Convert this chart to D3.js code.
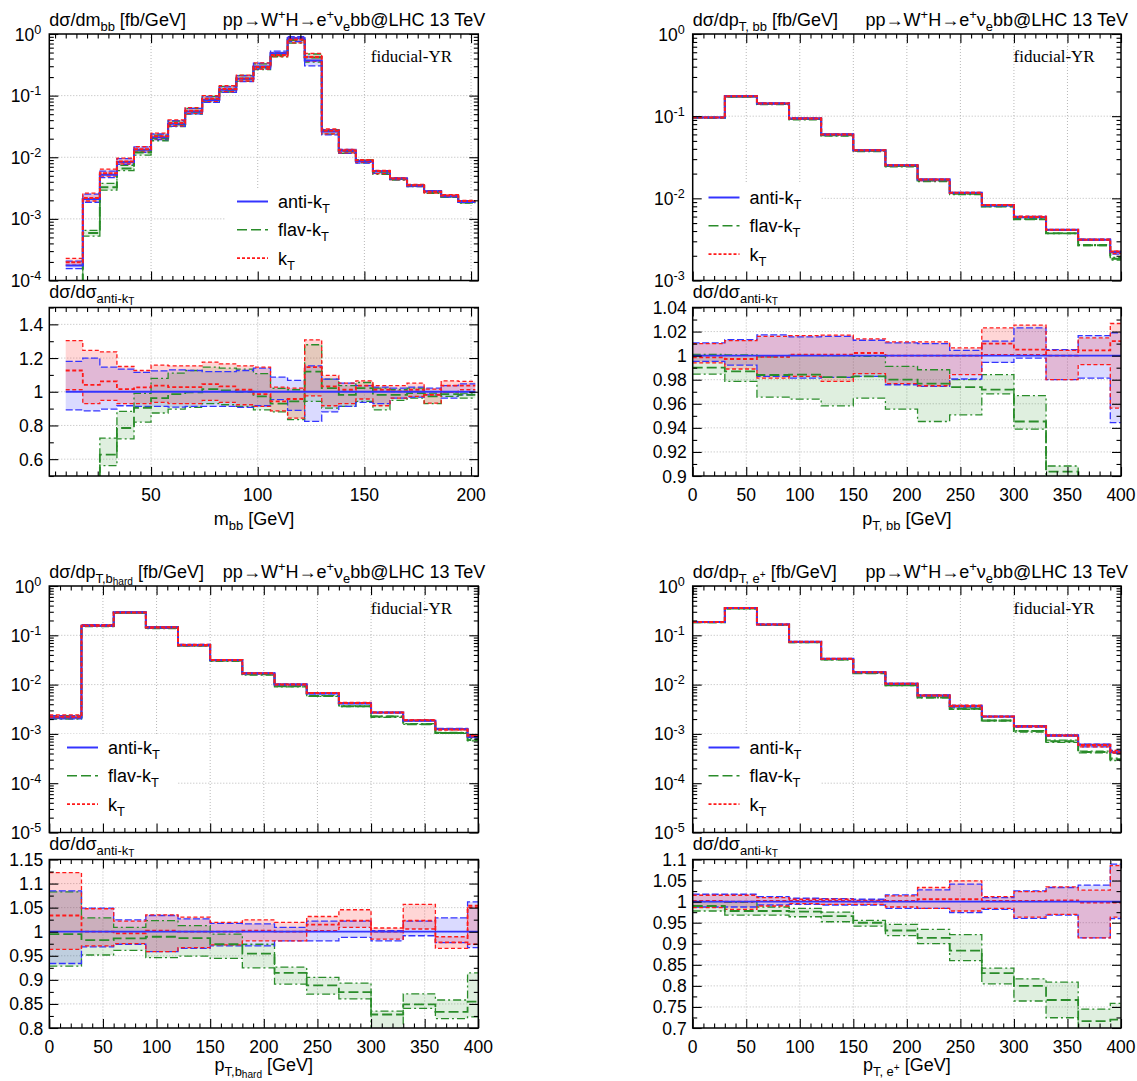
<!DOCTYPE html>
<html>
<head>
<meta charset="utf-8">
<script src="https://cdn.jsdelivr.net/npm/d3@7"></script>
<style>
body { margin: 0; background: #fff; }
svg text { font-family: "Liberation Sans", Arial, Helvetica, sans-serif; fill: #000; }
</style>
</head>
<body>
<div id="chart"></div>
<script>
// ---- bin edges ----
const mbbEdges = [10, 18, 26, 34, 42, 50, 58, 66, 74, 82, 90, 98, 106, 114, 122, 130, 138, 146, 154, 162, 170, 178, 186, 194, 202];
const ptEdges = [0, 30, 60, 90, 120, 150, 180, 210, 240, 270, 300, 330, 360, 390, 420];

// ---- m_bb : anti-kT cross section [fb/GeV] and ratios to anti-kT ----
const mbbAnti = [1.75e-4, 2.1e-3, 5.2e-3, 8.4e-3, 1.32e-2, 2.12e-2, 3.49e-2, 5.52e-2, 8.5e-2, 0.124, 0.187, 0.296, 0.486, 0.85, 0.37, 2.62e-2, 1.27e-2, 8.6e-3, 5.9e-3, 4.5e-3, 3.46e-3, 2.8e-3, 2.32e-3, 1.88e-3];
const mbbAntiLo = [0.893, 0.887, 0.897, 0.917, 0.913, 0.913, 0.909, 0.913, 0.913, 0.913, 0.907, 0.917, 0.953, 0.889, 0.824, 0.88, 0.913, 0.937, 0.929, 0.962, 0.968, 0.982, 0.962, 0.982];
const mbbAntiHi = [1.18, 1.2, 1.146, 1.134, 1.115, 1.124, 1.13, 1.126, 1.12, 1.12, 1.126, 1.14, 1.087, 1.067, 1.154, 1.075, 1.051, 1.036, 1.028, 1.022, 1.028, 1.022, 1.036, 1.047];
const mbbKtLo = [1.012, 0.929, 0.949, 0.929, 0.929, 0.937, 0.929, 0.93, 0.949, 0.937, 0.923, 0.913, 0.887, 0.844, 0.976, 0.917, 0.929, 0.957, 0.917, 0.962, 0.972, 0.933, 0.996, 1.012];
const mbbKt = [1.126, 1.041, 1.061, 1.016, 1.026, 1.036, 1.028, 1.028, 1.045, 1.032, 1.012, 0.986, 0.943, 0.957, 1.146, 1.032, 1.012, 1.036, 1.012, 1.002, 1.012, 0.982, 1.036, 1.036];
const mbbKtHi = [1.304, 1.245, 1.237, 1.15, 1.126, 1.158, 1.154, 1.154, 1.176, 1.166, 1.154, 1.146, 1.028, 1.022, 1.308, 1.097, 1.051, 1.065, 1.036, 1.036, 1.051, 1.016, 1.065, 1.061];
const mbbFlavLo = [0.15, 0.25, 0.561, 0.72, 0.82, 0.874, 0.897, 0.907, 0.93, 0.923, 0.913, 0.893, 0.88, 0.834, 0.943, 0.903, 0.913, 0.943, 0.893, 0.949, 0.962, 0.929, 0.972, 0.962];
const mbbFlav = [0.2, 0.28, 0.627, 0.785, 0.905, 0.962, 0.986, 0.996, 1.016, 1.008, 1.0, 0.972, 0.929, 0.943, 1.12, 1.022, 0.982, 1.022, 0.982, 0.982, 0.992, 0.972, 0.986, 0.982];
const mbbFlavHi = [0.25, 0.31, 0.725, 0.883, 0.99, 1.079, 1.11, 1.126, 1.146, 1.14, 1.134, 1.107, 1.02, 1.012, 1.279, 1.075, 1.036, 1.055, 1.022, 1.012, 1.022, 0.992, 0.996, 0.992];

// ---- pT,bb ----
const ptbbAnti = [0.0964, 0.175, 0.143, 0.0937, 0.0598, 0.0385, 0.0253, 0.0169, 0.0117, 8.2e-3, 5.9e-3, 4.15e-3, 3.13e-3, 2.22e-3];
const ptbbAntiLo = [0.9953, 0.9922, 0.9828, 0.9814, 0.982, 0.9828, 0.9758, 0.9744, 0.9806, 0.9944, 0.998, 0.98, 0.9814, 0.9444];
const ptbbAntiHi = [1.0106, 1.0133, 1.0172, 1.0156, 1.016, 1.0128, 1.0106, 1.01, 1.0044, 1.012, 1.023, 1.005, 1.0167, 1.019];
const ptbbKtLo = [0.994, 0.9889, 0.9814, 0.9828, 0.9786, 0.985, 0.9767, 0.975, 0.9842, 1.0008, 1.0008, 0.98, 0.9925, 0.9564];
const ptbbKt = [0.9986, 0.9972, 0.9989, 1.0008, 1.0008, 1.0022, 1.0, 1.0, 1.0, 1.01, 1.005, 1.0, 1.0044, 1.012];
const ptbbKtHi = [1.010, 1.0125, 1.016, 1.0167, 1.017, 1.0139, 1.0114, 1.0114, 1.0064, 1.023, 1.0253, 1.0044, 1.0147, 1.0267];
const ptbbFlavLo = [0.9847, 0.9786, 0.9656, 0.9639, 0.9583, 0.9647, 0.9556, 0.9453, 0.9508, 0.9683, 0.9389, 0.898, 0.85, 0.80];
const ptbbFlav = [0.99, 0.987, 0.9839, 0.9842, 0.9822, 0.9828, 0.98, 0.9767, 0.9739, 0.9717, 0.9453, 0.9036, 0.86, 0.83];
const ptbbFlavHi = [1.001, 1.0006, 0.9989, 1.0003, 1.0, 0.9994, 0.9911, 0.9883, 0.98, 0.9842, 0.9667, 0.9083, 0.875, 0.86];

// ---- pT,b_hard ----
const pthAnti = [2.16e-3, 0.157, 0.292, 0.145, 0.0635, 0.0315, 0.0169, 0.0101, 6.63e-3, 4.15e-3, 2.73e-3, 1.85e-3, 1.25e-3, 8.75e-4];
const pthAntiLo = [0.934, 0.9684, 0.974, 0.9586, 0.9656, 0.9705, 0.9705, 0.981, 0.981, 0.9881, 0.981, 0.9916, 0.9775, 0.967];
const pthAntiHi = [1.0849, 1.049, 1.0246, 1.0337, 1.0267, 1.0175, 1.0161, 1.0091, 1.0218, 1.0218, 1.002, 1.0218, 1.0288, 1.0618];
const pthKtLo = [0.9635, 0.9705, 0.9754, 0.9586, 0.967, 0.9726, 0.981, 0.981, 1.002, 1.0091, 0.9846, 1.0056, 0.9656, 0.974];
const pthKt = [1.0337, 1.0, 0.9965, 1.0021, 1.0, 1.0, 1.002, 1.0, 1.0147, 1.0232, 1.0, 1.0232, 0.978, 1.051];
const pthKtHi = [1.1228, 1.0477, 1.0218, 1.0351, 1.0302, 1.0196, 1.0246, 1.0196, 1.0316, 1.0456, 1.0077, 1.0568, 0.9895, 1.0547];
const pthFlavLo = [0.9284, 0.9516, 0.9614, 0.946, 0.9495, 0.9446, 0.9249, 0.8912, 0.8702, 0.8604, 0.79, 0.8407, 0.8196, 0.8232];
const pthFlav = [0.9951, 0.9825, 0.986, 0.9895, 0.9867, 0.974, 0.9544, 0.9144, 0.8884, 0.8744, 0.828, 0.8491, 0.8337, 0.8547];
const pthFlavHi = [1.0828, 1.0288, 1.0091, 1.0232, 1.0126, 0.9951, 0.974, 0.9263, 0.9053, 0.8933, 0.8351, 0.8709, 0.8582, 0.9144];

// ---- pT,e+ ----
const pteAnti = [0.186, 0.357, 0.166, 0.074, 0.0334, 0.0179, 0.0104, 6.0e-3, 3.65e-3, 2.25e-3, 1.43e-3, 9.27e-4, 5.99e-4, 4.25e-4];
const pteAntiLo = [0.9873, 0.9873, 0.992, 0.9936, 0.992, 0.992, 0.9841, 0.9841, 0.9737, 0.9817, 0.9602, 0.9681, 0.9139, 0.96];
const pteAntiHi = [1.0175, 1.0175, 1.012, 1.008, 1.0072, 1.0056, 1.0159, 1.0279, 1.0414, 1.0096, 1.0255, 1.0335, 1.039, 1.0892];
const pteKtLo = [0.9857, 0.9817, 0.9896, 0.9952, 0.9936, 0.9936, 0.9873, 0.9841, 0.9777, 0.9841, 0.9633, 0.9697, 0.9139, 0.9633];
const pteKt = [1.0016, 1.0, 1.0016, 1.0016, 1.0016, 1.0, 1.0016, 1.0056, 1.0056, 1.0016, 1.0016, 1.0032, 0.9976, 0.9976];
const pteKtHi = [1.0151, 1.0151, 1.0096, 1.0056, 1.0056, 1.0032, 1.0135, 1.0335, 1.0494, 1.012, 1.0239, 1.035, 1.0271, 1.0853];
const pteFlavLo = [0.9777, 0.9681, 0.9681, 0.9641, 0.9522, 0.9418, 0.9195, 0.9004, 0.8598, 0.8048, 0.7641, 0.7243, 0.69, 0.68];
const pteFlav = [0.9896, 0.9777, 0.9777, 0.9761, 0.9657, 0.9498, 0.9315, 0.9139, 0.8837, 0.8303, 0.8, 0.7665, 0.7163, 0.72];
const pteFlavHi = [1.0, 0.9985, 0.9873, 0.984, 0.9753, 0.9554, 0.9458, 0.9339, 0.9219, 0.8422, 0.8167, 0.8088, 0.745, 0.7586];

// ---- tick values ----
const ptTicks = [0, 50, 100, 150, 200, 250, 300, 350, 400];
const mbbTicks = [50, 100, 150, 200];
const mbbRatioTicks = [0.6, 0.8, 1, 1.2, 1.4];
const ptbbRatioTicks = [0.9, 0.92, 0.94, 0.96, 0.98, 1, 1.02, 1.04];
const pthRatioTicks = [0.8, 0.85, 0.9, 0.95, 1, 1.05, 1.1, 1.15];
const pteRatioTicks = [0.7, 0.75, 0.8, 0.85, 0.9, 0.95, 1, 1.05, 1.1];

const legendNames = [[["anti-k"], ["T", "sub"]], [["flav-k"], ["T", "sub"]], [["k"], ["T", "sub"]]];
const processTitle = [["pp→W"], ["+", "sup"], ["H→e"], ["+", "sup"], ["ν"], ["e", "sub"], ["bb@LHC 13 TeV"]];

const colors = { anti: "#3434ff", flav: "#2a8c2a", kt: "#ff1a1a" };
const fills = { anti: "rgba(70,70,255,0.2)", flav: "rgba(40,150,40,0.15)", kt: "rgba(255,50,50,0.2)" };

// text with sub/superscripts
function rich(sel, parts, size) {
    let shift = 0;
    parts.forEach(([t, k]) => {
        let target = 0, s = size;
        if (k === "sub") { target = size * 0.28; s = size * 0.72; }
        else if (k === "sup") { target = -size * 0.38; s = size * 0.72; }
        else if (k === "subsub") { target = size * 0.4; s = size * 0.56; }
        else if (k === "subsup") { target = size * 0.02; s = size * 0.56; }
        sel.append("tspan").attr("dy", target - shift).attr("font-size", s).text(t);
        shift = target;
    });
}

const svg = d3.select("#chart").append("svg")
    .attr("width", 1137)
    .attr("height", 1081);

class RatioPlot {
    constructor(_svg, _cfg) {
        this.svg = _svg;
        this.cfg = _cfg;
        this.initVis();
    }

    initVis() {
        let vis = this;
        let c = vis.cfg;

        vis.x0 = c.col === 0 ? 49.3 : 692.7;
        vis.x1 = c.col === 0 ? 478.3 : 1121;
        let dy = c.row * 552;
        vis.mTop = 34 + dy; vis.mBot = 280.5 + dy;
        vis.rTop = 307.5 + dy; vis.rBot = 476 + dy;
        vis.id = "p" + c.row + c.col;

        vis.x = d3.scaleLinear().domain(c.xDomain).range([vis.x0, vis.x1]);
        vis.yMain = d3.scaleLog().domain(c.mainDomain).range([vis.mBot, vis.mTop]);
        vis.yRatio = d3.scaleLinear().domain(c.ratioDomain).range([vis.rBot, vis.rTop]);

        let defs = vis.svg.append("defs");
        defs.append("clipPath").attr("id", vis.id + "m").append("rect")
            .attr("x", vis.x0).attr("y", vis.mTop).attr("width", vis.x1 - vis.x0).attr("height", vis.mBot - vis.mTop);
        defs.append("clipPath").attr("id", vis.id + "r").append("rect")
            .attr("x", vis.x0).attr("y", vis.rTop).attr("width", vis.x1 - vis.x0).attr("height", vis.rBot - vis.rTop);

        vis.wrangleData();
    }

    wrangleData() {
        let vis = this;
        let c = vis.cfg;
        let n = c.anti.length;
        // step points: one per edge, last edge repeats last bin
        let steps = (arr) => c.edges.map((e, i) => ({ x: e, v: arr[Math.min(i, n - 1)] }));
        let ones = c.anti.map(() => 1);

        vis.series = ["anti", "flav", "kt"].map(key => {
            let [lo, mid, hi] = c.ratios[key];
            mid = mid || ones;
            return {
                key: key,
                rLo: steps(lo), rMid: steps(mid), rHi: steps(hi),
                mLo: steps(lo.map((r, i) => r * c.anti[i])),
                mMid: steps(mid.map((r, i) => r * c.anti[i])),
                mHi: steps(hi.map((r, i) => r * c.anti[i]))
            };
        });

        vis.updateVis();
    }

    drawGrid(g, y, yTicks, top, bot) {
        let vis = this;
        g.selectAll(".hgrid").data(yTicks).enter().append("line")
            .attr("x1", vis.x0).attr("x2", vis.x1)
            .attr("y1", d => y(d)).attr("y2", d => y(d))
            .attr("stroke", "#b8b8b8").attr("stroke-width", 1).attr("stroke-dasharray", "1,2");
        g.selectAll(".vgrid").data(vis.cfg.xTicks.filter(d => d > vis.cfg.xDomain[0] && d < vis.cfg.xDomain[1])).enter().append("line")
            .attr("y1", top).attr("y2", bot)
            .attr("x1", d => vis.x(d)).attr("x2", d => vis.x(d))
            .attr("stroke", "#b8b8b8").attr("stroke-width", 1).attr("stroke-dasharray", "1,2");
    }

    drawTicks(g, y, yMajor, yMinor, top, bot) {
        let vis = this;
        let c = vis.cfg;
        let xMinor = d3.range(Math.ceil(c.xDomain[0] / c.xMinorStep) * c.xMinorStep, c.xDomain[1], c.xMinorStep)
            .filter(d => !c.xTicks.includes(Math.round(d)));
        let tick = (sel) => sel.call(s => s.select(".domain").remove()).selectAll("line").attr("stroke", "#000").attr("stroke-width", 1.1);

        g.append("g").attr("transform", "translate(0," + bot + ")")
            .call(d3.axisBottom(vis.x).tickValues(c.xTicks).tickSize(-9).tickFormat("")).call(tick);
        g.append("g").attr("transform", "translate(0," + bot + ")")
            .call(d3.axisBottom(vis.x).tickValues(xMinor).tickSize(-4.5).tickFormat("")).call(tick);
        g.append("g").attr("transform", "translate(0," + top + ")")
            .call(d3.axisTop(vis.x).tickValues(c.xTicks).tickSize(-9).tickFormat("")).call(tick);
        g.append("g").attr("transform", "translate(0," + top + ")")
            .call(d3.axisTop(vis.x).tickValues(xMinor).tickSize(-4.5).tickFormat("")).call(tick);

        g.append("g").attr("transform", "translate(" + vis.x0 + ",0)")
            .call(d3.axisLeft(y).tickValues(yMajor).tickSize(-9).tickFormat("")).call(tick);
        g.append("g").attr("transform", "translate(" + vis.x0 + ",0)")
            .call(d3.axisLeft(y).tickValues(yMinor).tickSize(-4.5).tickFormat("")).call(tick);
        g.append("g").attr("transform", "translate(" + vis.x1 + ",0)")
            .call(d3.axisRight(y).tickValues(yMajor).tickSize(-9).tickFormat("")).call(tick);
        g.append("g").attr("transform", "translate(" + vis.x1 + ",0)")
            .call(d3.axisRight(y).tickValues(yMinor).tickSize(-4.5).tickFormat("")).call(tick);

        g.append("rect")
            .attr("x", vis.x0).attr("y", top)
            .attr("width", vis.x1 - vis.x0).attr("height", bot - top)
            .attr("fill", "none").attr("stroke", "#000").attr("stroke-width", 1.5);
    }

    drawSeries(g, y, pre, mainPanel) {
        let vis = this;
        let area = d3.area().curve(d3.curveStepAfter)
            .x(d => vis.x(d.x)).y0(d => y(d.lo)).y1(d => y(d.hi));
        let line = d3.line().curve(d3.curveStepAfter)
            .x(d => vis.x(d.x)).y(d => y(d.v));
        let dash = { anti: "7,2.5", flav: "8,3,2,3", kt: "4,2.5" };
        let midDash = { anti: null, flav: "10,4", kt: mainPanel ? "4,1.5" : "4,2.5" };

        // bands
        ["anti", "flav", "kt"].forEach(key => {
            let s = vis.series.find(d => d.key === key);
            let pts = s[pre + "Lo"].map((d, i) => ({ x: d.x, lo: d.v, hi: s[pre + "Hi"][i].v }));
            g.append("path").datum(pts).attr("d", area).attr("fill", fills[key]).attr("stroke", "none");
        });
        // band edges
        ["flav", "anti", "kt"].forEach(key => {
            let s = vis.series.find(d => d.key === key);
            [s[pre + "Lo"], s[pre + "Hi"]].forEach(pts => {
                g.append("path").datum(pts).attr("d", line)
                    .attr("fill", "none").attr("stroke", colors[key]).attr("stroke-width", 1.3)
                    .attr("stroke-dasharray", dash[key]);
            });
        });
        // central values
        (mainPanel ? ["flav", "anti", "kt"] : ["flav", "kt", "anti"]).forEach(key => {
            let s = vis.series.find(d => d.key === key);
            g.append("path").datum(s[pre + "Mid"]).attr("d", line)
                .attr("fill", "none").attr("stroke", colors[key]).attr("stroke-width", mainPanel ? 2 : 1.8)
                .attr("stroke-dasharray", midDash[key]);
        });
    }

    updateVis() {
        let vis = this;
        let c = vis.cfg;

        // ---------- main panel ----------
        let decades = [];
        for (let k = Math.round(Math.log10(c.mainDomain[0])); k <= 0; k++) decades.push(Math.pow(10, k));
        let logMinor = [];
        decades.slice(0, -1).forEach(d => { for (let m = 2; m <= 9; m++) logMinor.push(d * m); });

        let gm = vis.svg.append("g");
        vis.drawGrid(gm, vis.yMain, decades.slice(1, -1), vis.mTop, vis.mBot);

        // legend background hides the grid
        gm.append("rect")
            .attr("x", c.legend.x).attr("y", c.legend.y)
            .attr("width", c.legend.w).attr("height", vis.mBot - c.legend.y - 1)
            .attr("fill", "#fff");

        let dm = gm.append("g").attr("clip-path", "url(#" + vis.id + "m)");
        vis.drawSeries(dm, vis.yMain, "m", true);
        vis.drawTicks(gm, vis.yMain, decades, logMinor, vis.mTop, vis.mBot);

        // y labels 10^k
        decades.forEach(d => {
            let t = gm.append("text")
                .attr("x", vis.x0 - 8).attr("y", vis.yMain(d) + 6.5)
                .attr("text-anchor", "end");
            rich(t, [["10"], [String(Math.round(Math.log10(d))), "sup"]], 17.5);
        });

        // titles
        let tl = gm.append("text").attr("x", vis.x0).attr("y", vis.mTop - 8.5);
        rich(tl, c.title, 18);
        let tr = gm.append("text").attr("x", vis.x1 + 7).attr("y", vis.mTop - 8.5).attr("text-anchor", "end");
        rich(tr, processTitle, 18);

        gm.append("text")
            .attr("x", vis.x1 - 107.5).attr("y", vis.mTop + 27.5)
            .style("font-family", "'Liberation Serif', 'Times New Roman', serif")
            .attr("font-size", 17)
            .text("fiducial-YR");

        // legend entries
        let dashes = { anti: null, flav: "10,4", kt: "3,2" };
        ["anti", "flav", "kt"].forEach((key, i) => {
            let ly = c.legend.y + 13.5 + i * 28.3;
            gm.append("line")
                .attr("x1", c.legend.x + c.legend.lx).attr("x2", c.legend.x + c.legend.lx + 31)
                .attr("y1", ly).attr("y2", ly)
                .attr("stroke", colors[key]).attr("stroke-width", key === "anti" ? 2 : 1.6)
                .attr("stroke-dasharray", dashes[key]);
            let t = gm.append("text")
                .attr("x", c.legend.x + c.legend.lx + 41).attr("y", ly + 6.5);
            rich(t, legendNames[i], 18);
        });

        // ---------- ratio panel ----------
        let gr = vis.svg.append("g");
        let rd = c.ratioDomain;
        let rMinor = d3.range(Math.round(rd[0] / c.ratioMinorStep), Math.round(rd[1] / c.ratioMinorStep) + 1)
            .map(k => +(k * c.ratioMinorStep).toFixed(4))
            .filter(v => !c.ratioTicks.some(t => Math.abs(t - v) < 1e-6));
        let rMajor = c.ratioTicks;
        vis.drawGrid(gr, vis.yRatio, rMajor.filter(v => v > rd[0] + 1e-6 && v < rd[1] - 1e-6), vis.rTop, vis.rBot);

        let dr = gr.append("g").attr("clip-path", "url(#" + vis.id + "r)");
        vis.drawSeries(dr, vis.yRatio, "r", false);
        vis.drawTicks(gr, vis.yRatio, rMajor, rMinor, vis.rTop, vis.rBot);

        gr.selectAll(".rlab").data(rMajor).enter().append("text")
            .attr("x", vis.x0 - 6).attr("y", d => vis.yRatio(d) + 6.5)
            .attr("text-anchor", "end").attr("font-size", 17.5)
            .text(d => String(+d.toFixed(3)));

        gr.selectAll(".xlab").data(c.xTicks).enter().append("text")
            .attr("x", d => vis.x(d)).attr("y", vis.rBot + 24.5)
            .attr("text-anchor", "middle").attr("font-size", 17.5)
            .text(d => d);

        let rl = gr.append("text").attr("x", vis.x0).attr("y", vis.rTop - 10);
        rich(rl, [["dσ/dσ"], ["anti-k", "sub"], ["T", "subsub"]], 18);

        let xl = gr.append("text")
            .attr("x", c.xLabelX || (vis.x0 + vis.x1) / 2).attr("y", vis.rBot + (c.row === 0 ? 49 : 43))
            .attr("text-anchor", "middle");
        rich(xl, c.xLabel, 18);
    }
}

const panels = [
    {
        col: 0, row: 0, edges: mbbEdges, anti: mbbAnti,
        ratios: { anti: [mbbAntiLo, null, mbbAntiHi], flav: [mbbFlavLo, mbbFlav, mbbFlavHi], kt: [mbbKtLo, mbbKt, mbbKtHi] },
        xDomain: [2.3, 203.4], xTicks: mbbTicks, xMinorStep: 5,
        mainDomain: [1e-4, 1], ratioDomain: [0.5, 1.5], ratioTicks: mbbRatioTicks, ratioMinorStep: 0.1,
        title: [["dσ/dm"], ["bb", "sub"], [" [fb/GeV]"]],
        xLabel: [["m"], ["bb", "sub"], [" [GeV]"]], xLabelX: 254,
        legend: { x: 226, y: 188, w: 124, lx: 11 }
    },
    {
        col: 1, row: 0, edges: ptEdges, anti: ptbbAnti,
        ratios: { anti: [ptbbAntiLo, null, ptbbAntiHi], flav: [ptbbFlavLo, ptbbFlav, ptbbFlavHi], kt: [ptbbKtLo, ptbbKt, ptbbKtHi] },
        xDomain: [0, 400], xTicks: ptTicks, xMinorStep: 10,
        mainDomain: [1e-3, 1], ratioDomain: [0.9, 1.04], ratioTicks: ptbbRatioTicks, ratioMinorStep: 0.01,
        title: [["dσ/dp"], ["T, bb", "sub"], [" [fb/GeV]"]],
        xLabel: [["p"], ["T, bb", "sub"], [" [GeV]"]],
        legend: { x: 693.5, y: 184, w: 127, lx: 15 }
    },
    {
        col: 0, row: 1, edges: ptEdges, anti: pthAnti,
        ratios: { anti: [pthAntiLo, null, pthAntiHi], flav: [pthFlavLo, pthFlav, pthFlavHi], kt: [pthKtLo, pthKt, pthKtHi] },
        xDomain: [0, 400], xTicks: ptTicks, xMinorStep: 10,
        mainDomain: [1e-5, 1], ratioDomain: [0.8, 1.15], ratioTicks: pthRatioTicks, ratioMinorStep: 0.025,
        title: [["dσ/dp"], ["T,b", "sub"], ["hard", "subsub"], [" [fb/GeV]"]],
        xLabel: [["p"], ["T,b", "sub"], ["hard", "subsub"], [" [GeV]"]],
        legend: { x: 50, y: 734, w: 128, lx: 17 }
    },
    {
        col: 1, row: 1, edges: ptEdges, anti: pteAnti,
        ratios: { anti: [pteAntiLo, null, pteAntiHi], flav: [pteFlavLo, pteFlav, pteFlavHi], kt: [pteKtLo, pteKt, pteKtHi] },
        xDomain: [0, 400], xTicks: ptTicks, xMinorStep: 10,
        mainDomain: [1e-5, 1], ratioDomain: [0.7, 1.1], ratioTicks: pteRatioTicks, ratioMinorStep: 0.025,
        title: [["dσ/dp"], ["T, e", "sub"], ["+", "subsup"], [" [fb/GeV]"]],
        xLabel: [["p"], ["T, e", "sub"], ["+", "subsup"], [" [GeV]"]],
        legend: { x: 693.5, y: 734, w: 127, lx: 15 }
    }
];

panels.forEach(p => new RatioPlot(svg, p));
</script>
</body>
</html>
